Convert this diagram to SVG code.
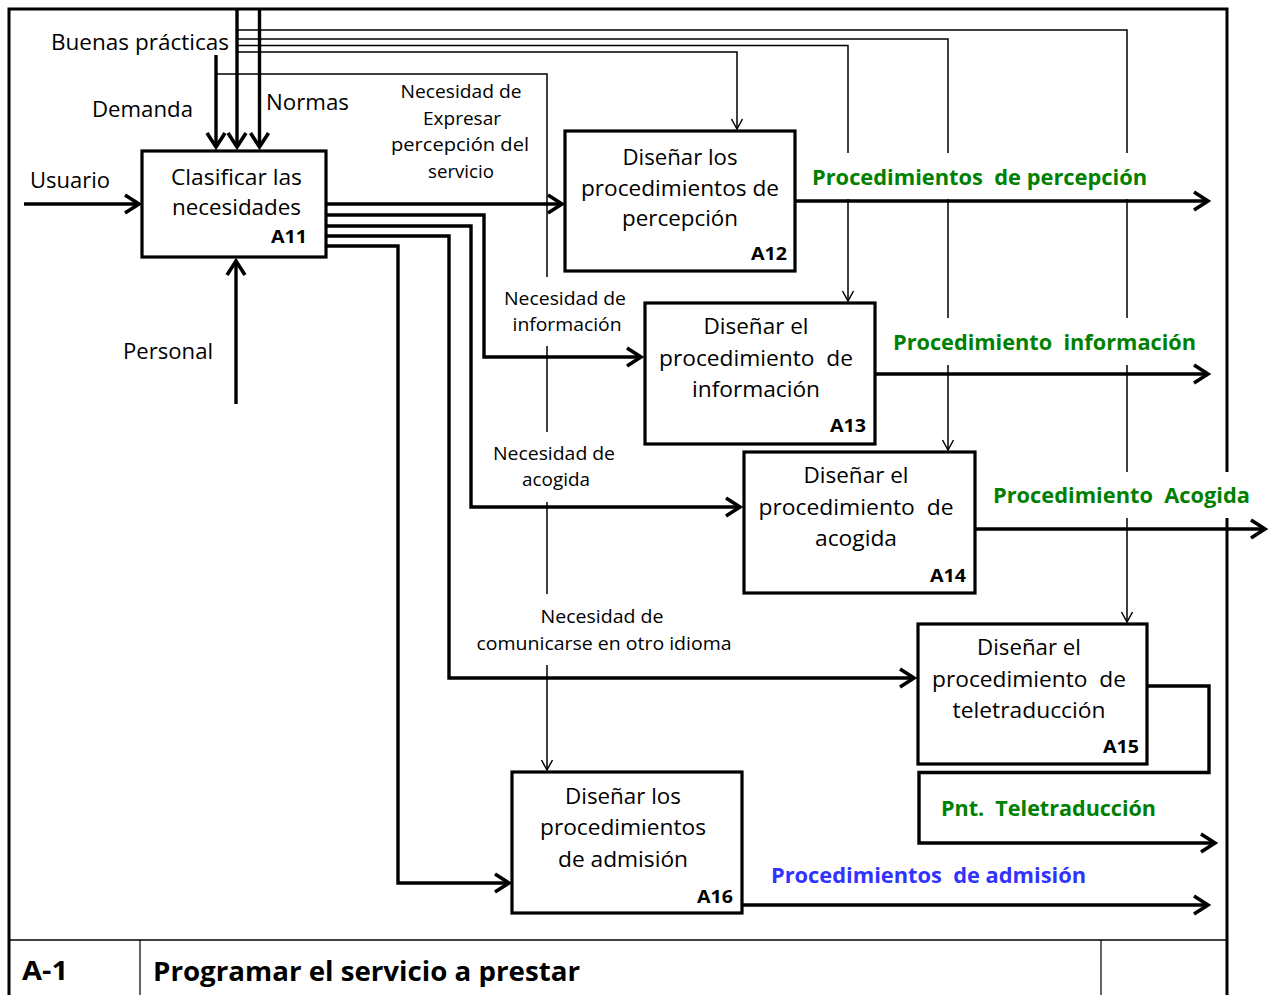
<svg xmlns="http://www.w3.org/2000/svg" width="1271" height="995" viewBox="0 0 1271 995">
<style>
text{font-family:"Open Sans","Noto Sans","Liberation Sans",sans-serif;fill:#000;white-space:pre}
.lbl{font-size:21px}
.nd{font-size:21px;text-anchor:middle}
.nec{font-size:17.5px;text-anchor:middle}
.code{font-size:17.5px;font-weight:bold;text-anchor:end}
.out{font-size:22px;font-weight:bold;fill:#008000;text-anchor:middle}
.blue{fill:#3232ff}
.ft{font-size:26px;font-weight:bold}
.box{fill:#fff;stroke:#000;stroke-width:3.2}
.thick{fill:none;stroke:#000;stroke-width:3.4;stroke-linejoin:miter}
.thin{fill:none;stroke:#000;stroke-width:1.5}
.frame{fill:none;stroke:#000;stroke-width:3}
</style>
<defs>
<marker id="ah" markerUnits="userSpaceOnUse" markerWidth="30" markerHeight="30" viewBox="-20 -15 30 30" refX="0" refY="0" orient="auto" overflow="visible">
<path d="M-14,-9 L0,0 L-14,9" fill="none" stroke="#000" stroke-width="3.6"/>
</marker>
<marker id="at" markerUnits="userSpaceOnUse" markerWidth="20" markerHeight="20" viewBox="-15 -10 20 20" refX="0" refY="0" orient="auto" overflow="visible">
<path d="M-10,-5.5 L0,0 L-10,5.5" fill="none" stroke="#000" stroke-width="1.5"/>
</marker>
</defs>

<g id="frame">
<path class="frame" d="M9,995 V9 H1227 V472 M1227,518 V995"/>
<path d="M9,940 H1227" stroke="#000" stroke-width="1.6" fill="none"/>
<path d="M140,940 V995 M1101,940 V995" stroke="#000" stroke-width="1.2" fill="none"/>
<text class="ft" x="22" y="980" textLength="46" lengthAdjust="spacingAndGlyphs">A-1</text>
<text class="ft" x="153" y="981" textLength="427" lengthAdjust="spacingAndGlyphs">Programar el servicio a prestar</text>
</g>

<g id="connectors">
<path class="thin" d="M238,30 H1127 V153 M1127,199 V318 M1127,365 V472 M1127,518 V622" marker-end="url(#at)"/>
<path class="thin" d="M238,39 H948 V153 M948,199 V318 M948,365 V450" marker-end="url(#at)"/>
<path class="thin" d="M238,45.5 H848 V153 M848,199 V301" marker-end="url(#at)"/>
<path class="thin" d="M238,52 H737 V129" marker-end="url(#at)"/>
<path class="thin" d="M216,74 H547 V277 M547,346 V432 M547,502 V594 M547,665 V770" marker-end="url(#at)"/>
<path class="thick" d="M216,55 V147" marker-end="url(#ah)"/>
<path class="thick" d="M237,9 V147" marker-end="url(#ah)"/>
<path class="thick" d="M259.5,9 V147" marker-end="url(#ah)"/>
<path class="thick" d="M24,204 H139" marker-end="url(#ah)"/>
<path class="thick" d="M236,404 V261" marker-end="url(#ah)"/>
<path class="thick" d="M326,204 H562" marker-end="url(#ah)"/>
<path class="thick" d="M326,215 H484 V357 H641" marker-end="url(#ah)"/>
<path class="thick" d="M326,226 H471 V507 H740" marker-end="url(#ah)"/>
<path class="thick" d="M326,236 H449 V678 H914" marker-end="url(#ah)"/>
<path class="thick" d="M326,246 H398 V883 H509" marker-end="url(#ah)"/>
<path class="thick" d="M795,201 H1208" marker-end="url(#ah)"/>
<path class="thick" d="M875,374 H1208" marker-end="url(#ah)"/>
<path class="thick" d="M975,529 H1265" marker-end="url(#ah)"/>
<path class="thick" d="M1147,686 H1209 V772.5 H919 V843 H1215" marker-end="url(#ah)"/>
<path class="thick" d="M742,905 H1208" marker-end="url(#ah)"/>
</g>

<g id="labels">
<text class="lbl" x="140" y="50" text-anchor="middle" textLength="178" lengthAdjust="spacingAndGlyphs">Buenas prácticas</text>
<text class="lbl" x="142.5" y="117" text-anchor="middle" textLength="101" lengthAdjust="spacingAndGlyphs">Demanda</text>
<text class="lbl" x="307.5" y="110" text-anchor="middle" textLength="83" lengthAdjust="spacingAndGlyphs">Normas</text>
<text class="lbl" x="70" y="188" text-anchor="middle" textLength="80" lengthAdjust="spacingAndGlyphs">Usuario</text>
<text class="lbl" x="168" y="359" text-anchor="middle" textLength="90" lengthAdjust="spacingAndGlyphs">Personal</text>

<text class="nec" x="461" y="98" textLength="121" lengthAdjust="spacingAndGlyphs">Necesidad de</text>
<text class="nec" x="462" y="125" textLength="78" lengthAdjust="spacingAndGlyphs">Expresar</text>
<text class="nec" x="460" y="151" textLength="138" lengthAdjust="spacingAndGlyphs">percepción del</text>
<text class="nec" x="461" y="178" textLength="66" lengthAdjust="spacingAndGlyphs">servicio</text>

<text class="nec" x="565" y="305" textLength="122" lengthAdjust="spacingAndGlyphs">Necesidad de</text>
<text class="nec" x="567" y="331" textLength="109" lengthAdjust="spacingAndGlyphs">información</text>

<text class="nec" x="554" y="460" textLength="122" lengthAdjust="spacingAndGlyphs">Necesidad de</text>
<text class="nec" x="556" y="486" textLength="68" lengthAdjust="spacingAndGlyphs">acogida</text>

<text class="nec" x="602" y="623" textLength="123" lengthAdjust="spacingAndGlyphs">Necesidad de</text>
<text class="nec" x="604" y="650" textLength="255" lengthAdjust="spacingAndGlyphs">comunicarse en otro idioma</text>

<text class="out" x="979.5" y="185" textLength="335" lengthAdjust="spacingAndGlyphs">Procedimientos  de percepción</text>
<text class="out" x="1044.5" y="350" textLength="303" lengthAdjust="spacingAndGlyphs">Procedimiento  información</text>
<text class="out" x="1121.5" y="503" textLength="257" lengthAdjust="spacingAndGlyphs">Procedimiento  Acogida</text>
<text class="out" x="1048.5" y="816" textLength="215" lengthAdjust="spacingAndGlyphs">Pnt.  Teletraducción</text>
<text class="out blue" x="928.5" y="883" textLength="315" lengthAdjust="spacingAndGlyphs">Procedimientos  de admisión</text>
</g>

<g id="A11">
<rect class="box" x="142" y="151" width="184" height="106"/>
<text class="nd" x="236.5" y="185" textLength="131" lengthAdjust="spacingAndGlyphs">Clasificar las</text>
<text class="nd" x="236.5" y="215" textLength="129" lengthAdjust="spacingAndGlyphs">necesidades</text>
<text class="code" x="307" y="243" textLength="36" lengthAdjust="spacingAndGlyphs">A11</text>
</g>

<g id="A12">
<rect class="box" x="565" y="131" width="230" height="140"/>
<text class="nd" x="680" y="165" textLength="115" lengthAdjust="spacingAndGlyphs">Diseñar los</text>
<text class="nd" x="680" y="196" textLength="198" lengthAdjust="spacingAndGlyphs">procedimientos de</text>
<text class="nd" x="680" y="226" textLength="116" lengthAdjust="spacingAndGlyphs">percepción</text>
<text class="code" x="787" y="260" textLength="36" lengthAdjust="spacingAndGlyphs">A12</text>
</g>

<g id="A13">
<rect class="box" x="645" y="303" width="230" height="141"/>
<text class="nd" x="756" y="334" textLength="105" lengthAdjust="spacingAndGlyphs">Diseñar el</text>
<text class="nd" x="756" y="366" textLength="194" lengthAdjust="spacingAndGlyphs">procedimiento  de</text>
<text class="nd" x="756" y="397" textLength="128" lengthAdjust="spacingAndGlyphs">información</text>
<text class="code" x="866" y="432" textLength="36" lengthAdjust="spacingAndGlyphs">A13</text>
</g>

<g id="A14">
<rect class="box" x="744" y="452" width="231" height="141"/>
<text class="nd" x="856" y="483" textLength="105" lengthAdjust="spacingAndGlyphs">Diseñar el</text>
<text class="nd" x="856" y="515" textLength="195" lengthAdjust="spacingAndGlyphs">procedimiento  de</text>
<text class="nd" x="856" y="546" textLength="82" lengthAdjust="spacingAndGlyphs">acogida</text>
<text class="code" x="966" y="582" textLength="36" lengthAdjust="spacingAndGlyphs">A14</text>
</g>

<g id="A15">
<rect class="box" x="918" y="624" width="229" height="140"/>
<text class="nd" x="1029" y="655" textLength="104" lengthAdjust="spacingAndGlyphs">Diseñar el</text>
<text class="nd" x="1029" y="687" textLength="194" lengthAdjust="spacingAndGlyphs">procedimiento  de</text>
<text class="nd" x="1029" y="718" textLength="153" lengthAdjust="spacingAndGlyphs">teletraducción</text>
<text class="code" x="1139" y="753" textLength="36" lengthAdjust="spacingAndGlyphs">A15</text>
</g>

<g id="A16">
<rect class="box" x="512" y="772" width="230" height="141"/>
<text class="nd" x="623" y="804" textLength="116" lengthAdjust="spacingAndGlyphs">Diseñar los</text>
<text class="nd" x="623" y="835" textLength="166" lengthAdjust="spacingAndGlyphs">procedimientos</text>
<text class="nd" x="623" y="867" textLength="130" lengthAdjust="spacingAndGlyphs">de admisión</text>
<text class="code" x="733" y="903" textLength="36" lengthAdjust="spacingAndGlyphs">A16</text>
</g>
</svg>
